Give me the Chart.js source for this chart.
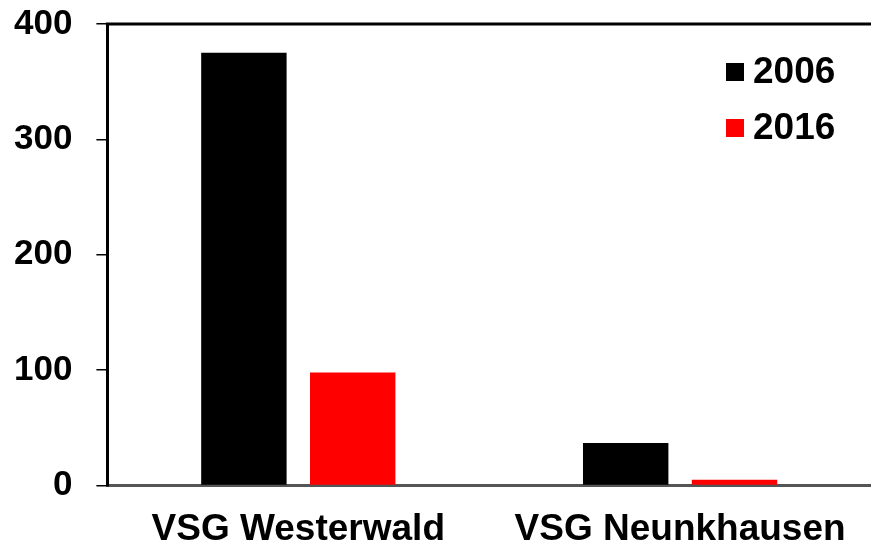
<!DOCTYPE html>
<html>
<head>
<meta charset="utf-8">
<script src="https://cdn.jsdelivr.net/npm/chart.js@4"></script>
<style>
  html, body { margin: 0; padding: 0; background: #fff; }
  #box { width: 871px; height: 547px; }
</style>
</head>
<body>
<div id="box"><canvas id="graphique"></canvas></div>
<script>
// Données
const categories = ['VSG Westerwald', 'VSG Neunkhausen'];
const annees = ['2006', '2016'];
const valeurs2006 = [375, 37];
const valeurs2016 = [98, 5];
const couleurs = ['#000000', '#ff0000'];
const graduations = [0, 100, 200, 300, 400];

const police = "'Liberation Sans', Arial, sans-serif";

// Légende dessinée dans la zone du graphique + ligne du haut
const legendeInterne = {
    id: 'legendeInterne',
    afterDraw(chart) {
        const ctx = chart.ctx;
        const area = chart.chartArea;
        ctx.save();
        // ligne du haut
        ctx.strokeStyle = '#000';
        ctx.lineWidth = 3;
        ctx.beginPath();
        ctx.moveTo(area.left - 1.5, area.top);
        ctx.lineTo(chart.width, area.top);
        ctx.stroke();
        // légende
        ctx.font = 'bold 37px ' + police;
        ctx.textBaseline = 'middle';
        chart.data.datasets.forEach((ds, i) => {
            const y = 72 + i * 56;
            ctx.fillStyle = ds.backgroundColor;
            ctx.fillRect(726, y - 9, 18, 18);
            ctx.fillStyle = '#000';
            ctx.fillText(ds.label, 753, y + 1);
        });
        ctx.restore();
    }
};

const ctx = document.getElementById('graphique').getContext('2d');
const chart = new Chart(ctx, {
    type: 'bar',
    data: {
        labels: categories,
        datasets: [
            { label: annees[0], data: valeurs2006, backgroundColor: couleurs[0] },
            { label: annees[1], data: valeurs2016, backgroundColor: couleurs[1] }
        ]
    },
    options: {
        responsive: true,
        maintainAspectRatio: false,
        animation: false,
        layout: { padding: { left: -10, top: 0, right: -5, bottom: -27 } },
        categoryPercentage: 0.57,
        barPercentage: 0.785,
        plugins: {
            legend: { display: false },
            tooltip: { enabled: false }
        },
        scales: {
            x: {
                grid: { display: false, drawTicks: false },
                border: { display: true, color: '#555', width: 3 },
                ticks: {
                    color: '#000',
                    padding: 22,
                    font: { family: police, size: 37, weight: 'bold' }
                }
            },
            y: {
                min: 0,
                max: 400,
                afterBuildTicks: axis => { axis.ticks = graduations.map(v => ({ value: v })); },
                grid: { drawOnChartArea: false, tickLength: 11, color: '#000', lineWidth: 1.5 },
                border: { display: true, color: '#000', width: 3 },
                ticks: {
                    color: '#000',
                    padding: 24,
                    font: { family: police, size: 35, weight: 'bold', lineHeight: 0 }
                }
            }
        }
    },
    plugins: [legendeInterne]
});
</script>
</body>
</html>
